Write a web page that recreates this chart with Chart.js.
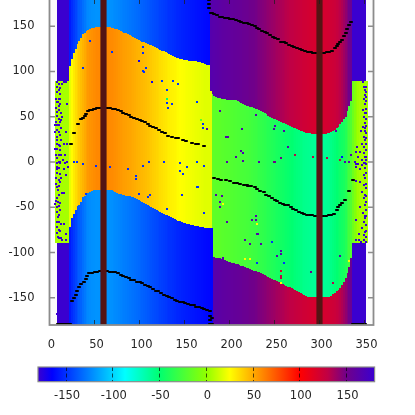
<!DOCTYPE html>
<html>
<head>
<meta charset="utf-8">
<script src="https://cdn.jsdelivr.net/npm/chart.js@4"></script>
<style>
html, body { margin: 0; padding: 0; background: #fff; width: 415px; height: 415px; overflow: hidden; }
canvas { position: absolute; left: 0; }
#mapChart { top: -1px; }
#barChart { top: 360px; }
</style>
</head>
<body>
<canvas id="mapChart" width="415" height="352"></canvas>
<canvas id="barChart" width="415" height="50"></canvas>
<script>
const xTicks = [0, 50, 100, 150, 200, 250, 300, 350];
const yTicks = [-150, -100, -50, 0, 50, 100, 150];
const barTicks = [-150, -100, -50, 0, 50, 100, 150];

const paletteValues = [-180, -165, -87, -50, 0, 25, 100, 130, 150, 180];
const paletteColors = ['#3a00d0', '#0000ff', '#00ffff', '#00ff70', '#90ff00', '#ffff00', '#ff0000', '#c00045', '#70008a', '#3a00d0'];

// 2 degree columns, ten per row
const binCenters = [
    7, 9, 11, 13, 15, 17, 19, 21, 23, 25,
    27, 29, 31, 33, 35, 37, 39, 41, 43, 45,
    47, 49, 51, 53, 55, 57, 59, 61, 63, 65,
    67, 69, 71, 73, 75, 77, 79, 81, 83, 85,
    87, 89, 91, 93, 95, 97, 99, 101, 103, 105,
    107, 109, 111, 113, 115, 117, 119, 121, 123, 125,
    127, 129, 131, 133, 135, 137, 139, 141, 143, 145,
    147, 149, 151, 153, 155, 157, 159, 161, 163, 165,
    167, 169, 171, 173, 175, 177, 179, 181, 183, 185,
    187, 189, 191, 193, 195, 197, 199, 201, 203, 205,
    207, 209, 211, 213, 215, 217, 219, 221, 223, 225,
    227, 229, 231, 233, 235, 237, 239, 241, 243, 245,
    247, 249, 251, 253, 255, 257, 259, 261, 263, 265,
    267, 269, 271, 273, 275, 277, 279, 281, 283, 285,
    287, 289, 291, 293, 295, 297, 299, 301, 303, 305,
    307, 309, 311, 313, 315, 317, 319, 321, 323, 325,
    327, 329, 331, 333, 335, 337, 339, 341, 343, 345,
    347, 349, 351, 353
];
const upperEdge = [
    90, 90, 90, 90, 90, 90, 90, 90, 106, 114,
    120, 125, 130, 134, 137, 141, 143, 145, 146, 147,
    147.5, 148, 149, 149, 149, 149, 149, 149, 149, 149,
    149, 148.5, 148, 147, 146.5, 146, 145, 144, 143, 142,
    141, 140, 139, 138.5, 137, 136, 135, 134, 133, 132,
    131, 130, 129.5, 129, 128, 127, 126, 125, 124, 123,
    122.5, 121, 120, 119, 118, 117, 116, 115, 114.5, 114,
    113.5, 113, 112.5, 112.5, 112, 112, 111.5, 111, 111, 110.5,
    110, 109.5, 109, 108, 107.5, 107, 78, 75, 73, 71.5,
    71, 70.5, 70, 70, 69.5, 69, 69, 69, 68.5, 68.5,
    68, 67, 66, 65, 64, 63, 62, 61.5, 61, 60.5,
    60, 59, 58, 57, 56, 55, 54, 52.5, 51, 50,
    49, 47.5, 47, 46, 45, 44, 43.5, 43, 42, 41,
    40, 39, 38, 37, 36, 35, 34.5, 34, 33, 32.5,
    32, 31.5, 31, 31, 31, 31, 31, 31, 31, 31,
    31, 31.5, 32, 33, 34.5, 35, 37, 39, 41.5, 44,
    47, 50, 56, 62, 67, 90, 90, 90, 90, 90,
    90, 90, 90, 90
];
const lowerEdge = [
    -89, -89, -89, -89, -89, -89, -89, -89, -71.5, -62,
    -57, -53, -49, -47, -44, -39, -37, -35.5, -34.5, -33,
    -32, -31, -31, -31, -31, -31, -31, -31, -31, -31,
    -31, -31, -32, -33, -34, -35, -35.5, -36, -36.5, -37,
    -37.5, -38, -38.5, -39, -40, -41, -42, -43, -44, -45,
    -46.5, -47.5, -49, -50, -51, -52, -53, -54, -55, -56,
    -57, -58, -59, -60, -61, -62, -63, -64, -65, -65.5,
    -66, -67, -67.5, -68, -69, -69.5, -70, -70.5, -71, -71,
    -71.5, -72, -72, -72.5, -72.5, -73, -73, -73, -105, -105.5,
    -106, -106.5, -107, -107.5, -108, -109, -110, -110.5, -111, -112,
    -112.5, -113, -114, -114.5, -115, -116, -117, -117.5, -118, -119,
    -120, -120.5, -121, -122, -123, -124, -125, -126, -127, -128,
    -129, -130, -130.5, -131.5, -132.5, -133.5, -134.5, -135.5, -136.5, -137.5,
    -138.5, -139.5, -140.5, -141.5, -142.5, -143.5, -144.5, -145.5, -147, -148.5,
    -149, -149, -149, -149, -149, -149, -149, -149, -149, -149,
    -149, -149, -149, -148, -146, -145, -143, -141, -139, -136,
    -132, -128, -123, -116, -106, -89, -89, -89, -89, -89,
    -89, -89, -89, -89
];
const outerValues = [
    null, -180, -180, -180, -180, -180, -180, -180, -157, -152,
    -148, -144, -140, -137, -135, -131, -128, -125, -123, -122,
    -121, -120.5, -120, -120, -120, -120, -120, -120, -120, -120,
    -120.5, -121, -122, -122.5, -123, -124, -125, -126, -126.5, -127,
    -128, -129, -129.5, -130, -131, -132, -133, -134, -135, -136,
    -137, -138, -139, -140, -141, -142, -143, -144, -145, -146,
    -147, -148, -149, -150, -150, -151, -152, -153, -153.5, -154,
    -155, -155.5, -156, -156.5, -157, -158, -158.5, -159, -159.5, -160,
    -160.5, -161, -161.5, -162, -162.5, -163, 165, 164, 163.5, 163,
    162, 161, 160.5, 160, 159.5, 159, 158.5, 158, 157.5, 157,
    156.5, 156, 155.5, 155, 154, 153.5, 153, 152, 151, 150.5,
    150, 149, 148, 147, 146, 145, 144, 143, 142, 141,
    140, 139, 138, 137, 136, 135, 134, 133, 132, 131,
    130, 129.5, 129, 128, 127, 126, 125, 124, 123.5, 123,
    122, 121.5, 121, 120.5, 120, 120, 120, 120, 120, 120.5,
    121, 121.5, 122, 123, 124, 125, 127, 129, 131, 134,
    138, 142, 146, 150, 154, 180, 180, 180, 180, 180,
    180, 180, 180, null
];
// the lower band stays blue a little past 180
const lowerBandPatch = { 179: -164, 181: -164 };
const innerValues = [
    5, 5, 5, 5, 5, 5, 5, 5, 20, 26,
    31, 35, 38, 41, 44, 47, 50, 53, 55, 56.5,
    57.5, 58.5, 59, 60, 60, 60.5, 60.5, 60.5, 60.5, 60,
    59.5, 59, 58.5, 58, 57, 56, 55, 54, 53.5, 53,
    52, 51.5, 51, 50, 49, 48, 47, 46.5, 46, 45,
    44, 43, 42, 41, 39.5, 38.5, 37.5, 36.5, 35, 34,
    33, 32, 31, 30, 29, 28.5, 28, 27, 26, 25,
    24.5, 24, 23.5, 23, 22.5, 22, 21.5, 21, 20.5, 20,
    19.5, 19, 18.5, 18, 18, 18, 18, -17, -17.5, -18,
    -18, -18.5, -19, -19.5, -20, -20.5, -21, -21.5, -22, -22.5,
    -23, -23.5, -24, -24.5, -25, -25.5, -26, -26.5, -27, -28,
    -29, -30, -31, -32, -33, -34, -35, -36, -37, -38,
    -39, -40, -41, -42, -43, -44, -45, -46, -47, -48,
    -49, -50, -51, -52, -53, -54, -55, -56, -57, -57.5,
    -58, -58.5, -59, -59.5, -60, -60, -60, -60, -60, -60,
    -59.5, -59, -58, -56, -54, -52, -50, -48, -46, -44,
    -42, -38, -32, -27, -22, -12, -5, 0, 3, 5,
    5, 5, 5, 5
];

// noisy cells at both ends of the middle band
const indigoCells = [
    [8, 88], [10, 86], [14, 86], [12, 82], [10, 80], [8, 77], [12, 75], [7, 70], [10, 70], [9, 66],
    [12, 64], [19, 64], [7, 60], [10, 57], [13, 54], [8, 51], [14, 50], [10, 48], [7, 44], [13, 46],
    [6, 41], [10, 41], [13, 38], [8, 35], [6, 33], [18, 33], [12, 30], [8, 28], [13, 24], [16, 20],
    [19, 20], [8, 20], [10, 19], [6, 14], [12, 13], [7, 8], [10, 8], [13, 8], [17, 8], [8, 4],
    [15, 2], [12, 0], [8, -1], [19, 0], [12, -1], [17, -1], [8, -5], [10, -7], [16, -8], [20, -6],
    [8, -12], [12, -13], [18, -14], [7, -18], [10, -20], [13, -18], [7, -24], [10, -27], [9, -31], [14, -34],
    [16, -34], [7, -43], [9, -44], [6, -46], [10, -49], [12, -53], [8, -55], [10, -59], [9, -61], [8, -66],
    [13, -68], [16, -68], [10, -75], [18, -80], [9, -83], [13, -84], [8, -168],
    [8, 83], [12, 70], [8, 66], [10, 62], [8, 55], [12, 44], [8, 41], [10, 33], [8, 24], [12, 18],
    [8, 14], [10, 0], [8, -8], [12, -22], [8, -28], [10, -36], [8, -40], [12, -45], [8, -50], [10, -66],
    [8, -72], [12, -76], [8, -78], [10, -84], [14, -86], [18, -86], [16, 88], [18, 88],
    [348, 88], [349, 83], [352, 83], [350, 80], [351, 74], [349, 70], [352, 67], [350, 64], [352, 59], [348, 57],
    [351, 54], [349, 50], [352, 48], [350, 43], [348, 39], [351, 37], [346, 34], [352, 32], [349, 28], [350, 24],
    [347, 20], [352, 20], [342, 17], [349, 17], [352, 13], [340, 11], [345, 11], [349, 10], [350, 6], [343, 6],
    [347, 2], [352, 2], [339, 0], [350, -1], [340, -2], [343, -2], [347, -3], [341, -6], [345, -8], [349, -1],
    [352, -2], [350, -7], [352, -12], [349, -14], [345, -22], [340, -21], [351, -18], [349, -25], [352, -29], [347, -33],
    [351, -36], [349, -40], [352, -44], [350, -48], [345, -50], [352, -53], [348, -56], [351, -60], [340, -64], [349, -66],
    [352, -70], [347, -73], [350, -77], [344, -80], [349, -81], [352, -83], [349, -86], [339, -90],
    [352, 77], [352, 72], [352, 54], [352, 40], [352, 26], [350, 34], [352, 6], [350, -18], [352, -24], [352, -38],
    [352, -60], [350, -62], [352, -76], [344, -86], [341, -86], [346, -88], [352, -88]
];
// isolated cells inside the middle band: x, y, value
const strayCells = [
    [45, 134, -150], [69, 122, -150], [103.5, 127.5, -150], [103.5, 120, -150], [99, 112, -170], [37.6, 104, -150], [107, 104, -150], [104, 101, -150], [105, 99, -150],
    [113.5, 88, -170], [125, 90, -150], [137.6, 90, -150], [143, 86, -150], [130, 80, -150], [163.5, 66, -150], [131, 70, -50], [131, 65, -150], [132, 60, -150], [136, 64, -150],
    [171, 42, -150], [171, 37, -150], [168, 46, -20], [27, 0, -150], [31, 0, -150], [37.6, -2, -150], [51.7, -4, -150], [67, -6, -150], [103.5, -4, -150], [110, 0, -150],
    [127, 0, -150], [145, -1.5, -150], [153, -6, -150], [163.5, 0, -150], [172, -4, -150], [87, -8, -150], [145, -10, -150], [148, -13, -150], [163.5, -28, -150], [165.5, -28, -150],
    [95.7, -16, -150], [95.7, -19, -150], [41, -35, -150], [99.4, -35, -150], [111.7, -36, -150], [109, -39, -150], [131, -52, -150], [147.6, -36, -150], [172, -56, -150],
    [189.5, 56, 165], [229, 52, 165], [251, 40, 165], [249.5, 36, 165], [261, 34, 165], [213.5, 36, 165], [175, 36, 165], [196, 28, 165], [198, 28, 165], [213, 12.5, 165],
    [215.4, 10, 170], [264.6, 17, 165], [273, 8, 130], [292.4, 6, 130], [308.7, 4, 130], [318.4, 34, 165], [324.7, 6, -160], [322.8, 2, 130], [334.6, 8, 165], [328.4, 0, 165],
    [332.8, 0, 165], [207, 6, 165], [197, 0, 165], [215.4, 1.5, 165], [233, 0, 165], [249, 0, 150], [251, 0, 150], [257, 4, 150],
    [185, -36.5, 165], [191.3, -38, 165], [189.5, -43.8, 165], [189.5, -50, 165], [193, -46, 25], [197, -66, 165], [229, -60, 165], [229, -64, 165], [224.7, -64, 165],
    [230, -68, 25], [230, -80, 165], [232, -80, 165], [217, -86, 165], [222.8, -90, 165], [235, -90, 165], [247, -88, -150], [257.2, -98, 165], [257.2, -102, 165], [252.4, -103.5, 165],
    [231, -112, -150], [261, -112, -150], [217, -107.5, 25], [223, -107.5, 25], [193, -105.7, 165], [322.4, -103.5, 165], [332.8, -109, 25], [291, -122, 150], [257.2, -120.4, 120],
    [257.2, -126, 130], [257.2, -128.5, 130], [257.2, -134, 25], [314.6, -134, 130]
];

// black ridge lines
const ridgeUpperRight = [
    [177, 179], [177, 175], [177, 170], [179, 165], [181, 164], [183, 163], [186, 162], [189, 160], [192, 160], [195, 159.5],
    [198, 159], [201, 158], [204, 158], [207, 156.5], [210, 156], [213, 155], [216, 154], [219, 153.5], [222, 152], [225, 151],
    [228, 150], [230, 148], [233, 147], [236, 145], [239, 144], [242, 143], [245, 140], [248, 138], [251, 137], [254, 136],
    [257, 133], [260, 132], [263, 131], [266, 129.5], [269, 128], [272, 127], [275, 126], [278, 124.5], [281, 124], [284, 122.5],
    [287, 122], [290, 121], [293, 120], [296, 120], [299, 120], [302, 120], [305, 120], [308, 121], [311, 122], [314, 123],
    [317, 126], [319, 128], [321, 130], [323, 133], [325, 135], [327, 139], [329, 142], [331, 147], [333, 151], [335, 155]
];
const ridgeMiddleLeft = [
    [23.5, 20], [27.5, 32], [32, 42], [35, 47], [37, 49], [39, 51], [41, 53], [43, 56], [45, 57], [47, 57],
    [49, 58], [51, 59], [53, 60], [55, 60], [58, 60], [61, 60], [64, 60], [67, 60], [70, 59], [73, 58],
    [76, 57], [79, 56], [82, 54], [85, 53], [88, 52], [91, 50], [94, 49], [97, 47.5], [100, 46], [103, 45],
    [106, 44], [109, 42], [112, 40], [115, 38.5], [118, 37], [122, 35], [125, 33], [128, 32], [132, 29], [136, 28],
    [140, 27], [143, 26], [148, 24], [152, 23], [158, 21], [163, 20], [165, 20], [172, 18]
];
const ridgeLowerLeft = [
    [25.5, -154], [27, -150], [29, -147], [31, -142], [33, -138], [35, -135], [38, -133], [40, -129], [42, -126], [44, -123],
    [47, -123], [50, -122], [53, -121], [56, -120], [60, -120], [64, -120], [67, -121], [70, -121], [73, -122], [76, -123],
    [79, -125], [82, -126], [85, -127], [88, -128], [91, -130], [94, -130], [97, -132], [100, -133], [103, -134], [106, -136],
    [109, -137], [112, -138], [115, -140], [118, -142], [121, -143], [124, -145], [127, -147], [130, -148], [133, -149], [136, -150],
    [139, -152], [142, -153], [145, -155], [148, -155], [151, -156], [154, -157], [157, -158], [160, -158], [163, -160], [166, -160],
    [169, -161], [172, -162], [175, -163], [178, -165], [178, -170], [178, -175], [178, -179], [181, -172], [181, -179]
];
const ridgeMiddleRight = [
    [183, -18], [187, -19], [191, -19.5], [196, -20], [200, -21], [205, -23], [208, -23.5], [212, -24], [216, -25], [219, -25.5],
    [221, -26], [224, -27], [228, -28], [231, -30], [234, -32], [238, -33], [241, -36], [244, -38], [247, -40], [250, -42],
    [253, -43], [256, -45], [259, -46], [262, -47], [265, -48], [268, -50], [271, -52], [274, -53], [277, -55], [280, -56],
    [283, -57], [286, -58], [289, -59], [292, -59], [295, -60], [298, -60], [301, -60], [304, -60], [307, -60], [310, -59],
    [313, -58], [316, -57], [319, -53], [321, -50], [323, -47], [325, -45], [328, -42], [333, -32], [337, -20]
];
const ridgeBottomEdge = [
    [9, -179], [11, -179], [13, -179], [15, -179], [17, -179], [19, -179], [21, -179], [23, -179],
    [337, -179], [339, -179], [341, -179], [343, -179], [345, -179], [347, -179], [349, -179], [351, -179]
];

const markerPositions = [60, 300];

function colorFor(value) {
    var i = 0;
    while (i < paletteValues.length - 2 && value > paletteValues[i + 1]) {
        i++;
    }
    var t = (value - paletteValues[i]) / (paletteValues[i + 1] - paletteValues[i]);
    var a = paletteColors[i], b = paletteColors[i + 1];
    var mix = function (start) {
        var p = parseInt(a.substr(start, 2), 16), q = parseInt(b.substr(start, 2), 16);
        return Math.round(p + (q - p) * t);
    };
    return 'rgb(' + mix(1) + ',' + mix(3) + ',' + mix(5) + ')';
}

function toPoints(pairs) {
    return pairs.map(function (p) { return { x: p[0], y: p[1] }; });
}

function columnDataset(points, colors, order) {
    return { type: 'bar', data: points, backgroundColor: colors, barThickness: 1.8, inflateAmount: 0, grouped: false, order: order, snapColumns: true };
}

function cellDataset(pairs, colors, order, radius) {
    return {
        type: 'scatter', data: toPoints(pairs), backgroundColor: colors, pointBackgroundColor: colors,
        borderWidth: 0, pointBorderWidth: 0,
        pointStyle: 'rect', pointRadius: radius, order: order, snapCells: true
    };
}

var topPoints = [], topColors = [], midPoints = [], midColors = [], lowPoints = [], lowColors = [];
binCenters.forEach(function (x, i) {
    midPoints.push({ x: x, y: [lowerEdge[i], upperEdge[i]] });
    midColors.push(colorFor(innerValues[i]));
    if (outerValues[i] !== null) {
        var lowValue = lowerBandPatch[x] !== undefined ? lowerBandPatch[x] : outerValues[i];
        topPoints.push({ x: x, y: [upperEdge[i], 180] });
        topColors.push(colorFor(outerValues[i]));
        lowPoints.push({ x: x, y: [-180, lowerEdge[i]] });
        lowColors.push(colorFor(lowValue));
    }
});

const ridgeLines = ridgeUpperRight.concat(ridgeMiddleLeft, ridgeLowerLeft, ridgeMiddleRight, ridgeBottomEdge);
const labelFont = { family: 'DejaVu Sans', size: 11.5 };
const labelColor = '#262626';
const frameColor = '#8c8c8c';

function roundPx(v) {
    return Math.round(Math.round(v * 1000) / 1000);
}

// antialiased cell edges mix blue and orange into grey, so keep cells on whole pixels
const snapToPixels = {
    id: 'snapToPixels',
    beforeDatasetDraw(chart, args) {
        var ds = chart.data.datasets[args.index];
        args.meta.data.forEach(function (el) {
            if (ds.snapColumns) {
                var left = roundPx(el.x - 0.9);
                var right = roundPx(el.x + 0.9);
                el.width = right - left;
                el.x = left + el.width / 2;
                el.y = roundPx(el.y);
                el.base = roundPx(el.base);
            } else if (ds.snapCells) {
                el.x = roundPx(el.x);
                el.y = roundPx(el.y);
            }
        });
    }
};

const frame = {
    id: 'frame',
    beforeDraw(chart) {
        var a = chart.chartArea, c = chart.ctx;
        c.save();
        c.fillStyle = '#fbfbfb';
        c.fillRect(a.left, a.top, a.right - a.left, a.bottom - a.top);
        c.restore();
    },
    afterDraw(chart) {
        var a = chart.chartArea, c = chart.ctx;
        c.save();
        if (chart.canvas.id === 'mapChart') {
            c.strokeStyle = 'rgba(30,30,30,0.75)';
            c.lineWidth = 1;
            chart.scales.x.ticks.forEach(function (tick) {
                var px = chart.scales.x.getPixelForValue(tick.value);
                c.beginPath();
                c.moveTo(px, a.top); c.lineTo(px, a.top + 5);
                c.moveTo(px, a.bottom); c.lineTo(px, a.bottom - 5);
                c.stroke();
            });
            c.strokeStyle = frameColor;
            c.lineWidth = 1.5;
            chart.scales.y.ticks.forEach(function (tick) {
                var py = chart.scales.y.getPixelForValue(tick.value);
                c.beginPath();
                c.moveTo(a.left, py); c.lineTo(a.left + 5.5, py);
                c.moveTo(a.right, py); c.lineTo(a.right - 5.5, py);
                c.stroke();
            });
        }
        c.strokeStyle = frameColor;
        c.lineWidth = chart.canvas.id === 'mapChart' ? 1.8 : 1.2;
        c.strokeRect(a.left, a.top, a.right - a.left, a.bottom - a.top);
        c.restore();
    }
};

new Chart(document.getElementById('mapChart'), {
    type: 'bar',
    plugins: [frame, snapToPixels],
    data: {
        datasets: [
            { type: 'bar', data: markerPositions.map(function (x) { return { x: x, y: [-180, 180] }; }), backgroundColor: '#541414', barThickness: 5.5, grouped: false, order: 0 },
            {
                type: 'scatter', data: toPoints(ridgeLines), pointStyle: 'line', pointRadius: 1.8,
                pointBorderWidth: 1.8, pointBorderColor: '#000000', order: 1, snapCells: true
            },
            cellDataset(indigoCells, colorFor(-180), 2, 1.42),
            cellDataset(strayCells.map(function (c) { return [c[0], c[1]]; }), strayCells.map(function (c) { return colorFor(c[2]); }), 2, 1.42),
            columnDataset(topPoints, topColors, 3),
            columnDataset(midPoints, midColors, 3),
            columnDataset(lowPoints, lowColors, 3)
        ]
    },
    options: {
        responsive: false,
        animation: false,
        events: [],
        layout: { autoPadding: false, padding: { left: 0, right: 41.5, top: 0, bottom: 0 } },
        plugins: { legend: { display: false }, tooltip: { enabled: false } },
        scales: {
            x: {
                type: 'linear', min: 0, max: 360, offset: false,
                grid: { display: false, offset: false },
                border: { display: false },
                afterBuildTicks(scale) { scale.ticks = xTicks.map(function (v) { return { value: v }; }); },
                afterFit(scale) { scale.height = 26; scale.paddingLeft = 0; scale.paddingRight = 0; },
                ticks: { font: labelFont, color: labelColor, padding: 5, maxRotation: 0, autoSkip: false, labelOffset: 2 }
            },
            y: {
                type: 'linear', min: -180, max: 180,
                grid: { display: false },
                border: { display: false },
                afterBuildTicks(scale) { scale.ticks = yTicks.map(function (v) { return { value: v }; }); },
                afterFit(scale) { scale.width = 49.5; scale.paddingTop = 0; scale.paddingBottom = 0; },
                ticks: { font: labelFont, color: labelColor, padding: 7, autoSkip: false }
            }
        }
    }
});

new Chart(document.getElementById('barChart'), {
    type: 'bar',
    plugins: [frame],
    data: {
        labels: [''],
        datasets: [{
            data: [[-180, 180]],
            barPercentage: 1,
            categoryPercentage: 1,
            backgroundColor(ctx) {
                var area = ctx.chart.chartArea;
                if (!area) {
                    return paletteColors[0];
                }
                var g = ctx.chart.ctx.createLinearGradient(area.left, 0, area.right, 0);
                paletteValues.forEach(function (v, i) {
                    g.addColorStop((v + 180) / 360, paletteColors[i]);
                });
                return g;
            }
        }]
    },
    options: {
        indexAxis: 'y',
        responsive: false,
        animation: false,
        events: [],
        layout: { autoPadding: false, padding: { left: 38, right: 40.4, top: 7, bottom: 0 } },
        plugins: { legend: { display: false }, tooltip: { enabled: false } },
        scales: {
            y: { display: false },
            x: {
                type: 'linear', min: -180, max: 180,
                grid: { color: 'rgba(0,0,0,0.65)', z: 1, drawTicks: false },
                border: { display: false, dash: [4, 2.5] },
                afterBuildTicks(scale) { scale.ticks = barTicks.map(function (v) { return { value: v }; }); },
                afterFit(scale) { scale.height = 28.3; scale.paddingLeft = 0; scale.paddingRight = 0; },
                ticks: { font: labelFont, color: labelColor, padding: 7, maxRotation: 0, autoSkip: false, labelOffset: 1 }
            }
        }
    }
});
</script>
</body>
</html>
